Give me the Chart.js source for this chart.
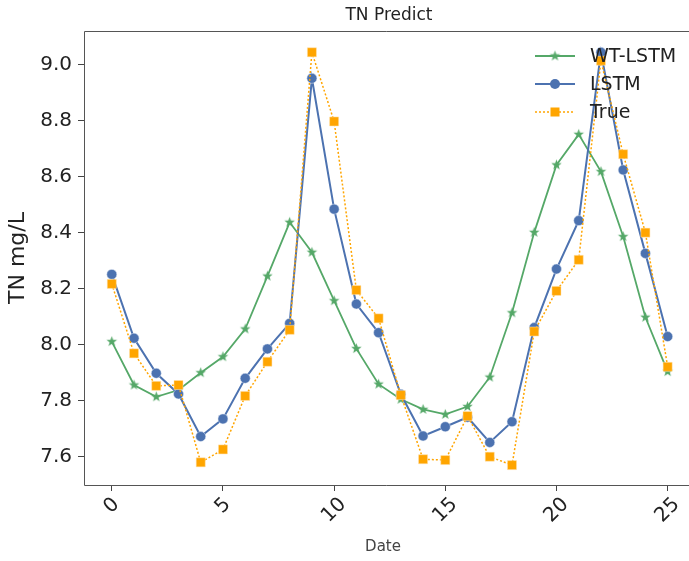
<!DOCTYPE html>
<html>
<head>
<meta charset="utf-8">
<script src="https://cdn.jsdelivr.net/npm/chart.js@4/dist/chart.umd.min.js"></script>
<style>
  html, body { margin: 0; padding: 0; background: #fff; overflow: hidden; }
  #wrap { width: 689px; height: 561px; }
</style>
</head>
<body>
<div id="wrap"><canvas id="tnChart" width="689" height="561"></canvas></div>
<script>
// data
const dates = [0, 1, 2, 3, 4, 5, 6, 7, 8, 9, 10, 11, 12, 13, 14, 15, 16, 17, 18, 19, 20, 21, 22, 23, 24, 25];
const wtLstm = [8.012, 7.857, 7.815, 7.839, 7.901, 7.958, 8.057, 8.246, 8.438, 8.331, 8.158, 7.987,
  7.860, 7.806, 7.770, 7.752, 7.780, 7.885, 8.115, 8.402, 8.643, 8.752, 8.619, 8.387, 8.099, 7.905];
const lstm = [8.252, 8.024, 7.899, 7.825, 7.673, 7.736, 7.881, 7.986, 8.077, 8.952, 8.485, 8.146,
  8.044, 7.824, 7.675, 7.708, 7.742, 7.652, 7.726, 8.062, 8.271, 8.444, 9.045, 8.625, 8.327, 8.030];
const trueVals = [8.218, 7.970, 7.854, 7.857, 7.581, 7.627, 7.818, 7.940, 8.054, 9.045, 8.798, 8.196,
  8.095, 7.821, 7.592, 7.589, 7.746, 7.601, 7.571, 8.048, 8.193, 8.304, 9.015, 8.681, 8.401, 7.922];
const xTicks = [0, 5, 10, 15, 20, 25];
const yTicks = [7.6, 7.8, 8.0, 8.2, 8.4, 8.6, 8.8, 9.0];

const GREEN = "#55a868";
const BLUE = "#4c72b0";
const ORANGE = "#ffa500";
const FONT = "'DejaVu Sans', sans-serif";

// filled star marker like matplotlib '*'
function makeStar(color, r) {
  const c = document.createElement("canvas");
  const s = Math.ceil(r * 2 + 2);
  c.width = s; c.height = s;
  const g = c.getContext("2d");
  g.beginPath();
  for (let i = 0; i < 10; i++) {
    const rad = i % 2 === 0 ? r : r * 0.42;
    const a = -Math.PI / 2 + i * Math.PI / 5;
    const px = s / 2 + rad * Math.cos(a);
    const py = s / 2 + rad * Math.sin(a);
    if (i === 0) g.moveTo(px, py); else g.lineTo(px, py);
  }
  g.closePath();
  g.fillStyle = color;
  g.fill();
  return c;
}
const star = makeStar(GREEN, 5.5);

const toPoints = arr => arr.map((v, i) => ({ x: dates[i], y: v }));

const series = [
  { label: "WT-LSTM", color: GREEN, marker: "star" },
  { label: "LSTM", color: BLUE, marker: "circle" },
  { label: "True", color: ORANGE, marker: "rect" }
];

// title, frame, x tick labels and legend
const extras = {
  id: "extras",
  afterDraw(chart) {
    const { ctx, chartArea, width } = chart;
    const xs = chart.scales.x;
    ctx.save();

    // frame: the right spine falls outside the picture in the reference
    ctx.strokeStyle = "#555";
    ctx.lineWidth = 1;
    ctx.beginPath();
    ctx.moveTo(width, chartArea.top + 0.5);
    ctx.lineTo(chartArea.left + 0.5, chartArea.top + 0.5);
    ctx.lineTo(chartArea.left + 0.5, chartArea.bottom + 0.5);
    ctx.lineTo(width, chartArea.bottom + 0.5);
    ctx.stroke();

    ctx.fillStyle = "#222";
    ctx.font = "17px " + FONT;
    ctx.textAlign = "center";
    ctx.textBaseline = "middle";
    ctx.fillText("TN Predict", 389, 16);

    ctx.font = "20px " + FONT;
    xTicks.forEach(v => {
      const x = xs.getPixelForValue(v);
      const w = ctx.measureText(String(v)).width;
      const h = 15;
      const box = (w + h) * Math.SQRT1_2;
      const cy = chartArea.bottom + 11 + box / 2;
      ctx.save();
      ctx.translate(x, cy);
      ctx.rotate(-Math.PI / 4);
      ctx.textAlign = "center";
      ctx.textBaseline = "middle";
      ctx.fillText(String(v), 0, 0);
      ctx.restore();
    });

    // legend
    const rows = [56, 84, 112];
    ctx.font = "19px " + FONT;
    ctx.textAlign = "left";
    ctx.textBaseline = "middle";
    series.forEach((s, i) => {
      const y = rows[i];
      ctx.strokeStyle = s.color;
      ctx.lineWidth = s.marker === "rect" ? 1.5 : 1.8;
      ctx.setLineDash(s.marker === "rect" ? [2, 2] : []);
      ctx.beginPath();
      ctx.moveTo(535, y);
      ctx.lineTo(575, y);
      ctx.stroke();
      ctx.setLineDash([]);
      ctx.fillStyle = s.color;
      if (s.marker === "star") {
        ctx.drawImage(star, 555 - star.width / 2, y - star.height / 2);
      } else if (s.marker === "circle") {
        ctx.beginPath();
        ctx.arc(555, y, 5, 0, Math.PI * 2);
        ctx.fill();
      } else {
        ctx.fillRect(550.5, y - 4.5, 9, 9);
      }
      ctx.fillStyle = "#222";
      ctx.fillText(s.label, 590, y + 1);
    });
    ctx.restore();
  }
};

const ctx = document.getElementById("tnChart").getContext("2d");
new Chart(ctx, {
  type: "line",
  data: {
    datasets: [
      {
        label: "WT-LSTM",
        data: toPoints(wtLstm),
        borderColor: GREEN,
        backgroundColor: GREEN,
        borderWidth: 1.8,
        pointStyle: star,
        order: 2
      },
      {
        label: "LSTM",
        data: toPoints(lstm),
        borderColor: BLUE,
        backgroundColor: BLUE,
        borderWidth: 2,
        pointStyle: "circle",
        pointRadius: 5,
        pointBorderWidth: 0.5,
        pointBorderColor: "#dfe6f2",
        order: 1
      },
      {
        label: "True",
        data: toPoints(trueVals),
        borderColor: ORANGE,
        backgroundColor: ORANGE,
        borderWidth: 1.5,
        borderDash: [2, 2],
        pointStyle: "rect",
        pointRadius: 6.4,
        pointBorderWidth: 0.5,
        pointBorderColor: "#ffe3b0",
        order: 0
      }
    ]
  },
  options: {
    responsive: false,
    animation: false,
    devicePixelRatio: 1,
    layout: { padding: { top: 31, right: 0, left: 0, bottom: 0 } },
    plugins: {
      legend: { display: false },
      tooltip: { enabled: false }
    },
    scales: {
      x: {
        type: "linear",
        min: -1.25,
        max: 25.65,
        afterBuildTicks: s => { s.ticks = xTicks.map(v => ({ value: v })); },
        afterFit: s => { s.height = 76; s.paddingRight = 0; s.paddingLeft = 0; },
        grid: { display: true, drawOnChartArea: false, drawTicks: true, tickLength: 6, color: "#444" },
        border: { display: false },
        ticks: { display: false },
        title: {
          display: true,
          text: "Date",
          color: "#444",
          font: { family: FONT, size: 15 },
          padding: { bottom: 5 }
        }
      },
      y: {
        type: "linear",
        min: 7.5,
        max: 9.121,
        afterBuildTicks: s => { s.ticks = yTicks.map(v => ({ value: v })); },
        afterFit: s => { s.width = 84; },
        grid: { display: true, drawOnChartArea: false, drawTicks: true, tickLength: 6, color: "#444" },
        border: { display: false },
        ticks: {
          color: "#222",
          padding: 6,
          font: { family: FONT, size: 20 },
          callback: v => Number(v).toFixed(1)
        },
        title: {
          display: true,
          text: "TN mg/L",
          color: "#222",
          font: { family: FONT, size: 22 },
          padding: { top: 5 }
        }
      }
    }
  },
  plugins: [extras]
});
</script>
</body>
</html>
